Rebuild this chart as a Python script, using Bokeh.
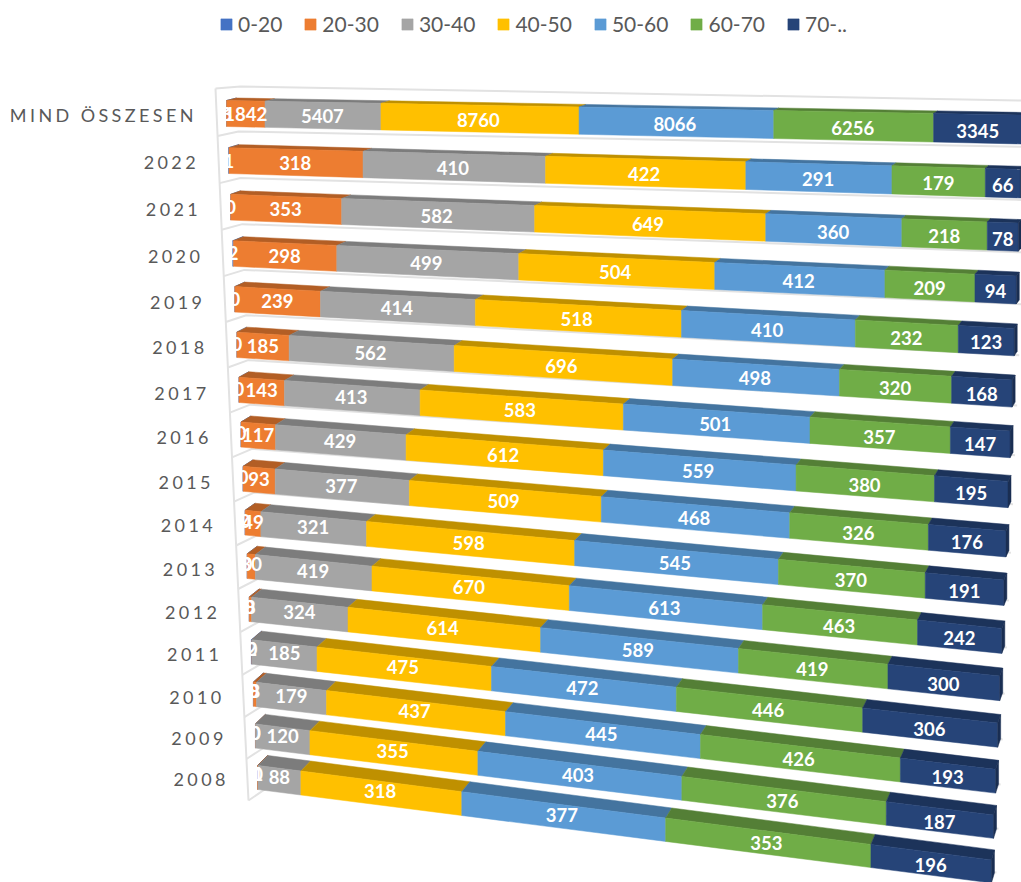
from bokeh.plotting import figure, curdoc
from bokeh.models import Range1d, CustomJS
from bokeh.core.properties import value
from bokeh.embed import file_html
from bokeh.resources import INLINE

categories = ["MIND ÖSSZESEN", "2022", "2021", "2020", "2019", "2018", "2017", "2016",
              "2015", "2014", "2013", "2012", "2011", "2010", "2009", "2008"]
series_names = ["0-20", "20-30", "30-40", "40-50", "50-60", "60-70", "70-.."]
v_0_20 = [3, 1, 0, 2, 0, 0, 0, 0, 0, 0, 0, 0, 2, 0, 0, 0]
v_20_30 = [1842, 318, 353, 298, 239, 185, 143, 117, 93, 49, 30, 8, 0, 8, 0, 1]
v_30_40 = [5407, 410, 582, 499, 414, 562, 413, 429, 377, 321, 419, 324, 185, 179, 120, 88]
v_40_50 = [8760, 422, 649, 504, 518, 696, 583, 612, 509, 598, 670, 614, 475, 437, 355, 318]
v_50_60 = [8066, 291, 360, 412, 410, 498, 501, 559, 468, 545, 613, 589, 472, 445, 403, 377]
v_60_70 = [6256, 179, 218, 209, 232, 320, 357, 380, 326, 370, 463, 419, 446, 426, 376, 353]
v_70 = [3345, 66, 78, 94, 123, 168, 147, 195, 176, 191, 242, 300, 306, 193, 187, 196]
series = [v_0_20, v_20_30, v_30_40, v_40_50, v_50_60, v_60_70, v_70]
front_colors = ["#4472C4", "#ED7D31", "#A5A5A5", "#FFC000", "#5B9BD5", "#70AD47", "#264478"]
top_colors = ["#335692", "#B25E25", "#7C7C7C", "#BF9000", "#44749F", "#547F36", "#1C335A"]
side_color = "#1A2E52"
GRID = "#E2E2E2"
LABEL_SPACING = 3.4

# perspective projection of the 100 % stacked bars
A = 1.14
def persp(t):
    return t / (t + A * (1 - t)) if 0 < t < 1 else float(t)
def x_left(i): return 226 + 2.07 * i
def x_right(i): return 1022 - 2.07 * i
def lb(i): return 126 + 47.2 * i - 0.2 * i * i
def rb(i): return 143.5 + 54.3 * i - 0.336 * i * i
def lt(i): return lb(i) - (26 - 0.13 * i)
def rt(i): return rb(i) - (29 - 0.4 * i)
def px(i, s): return x_left(i) + s * (x_right(i) - x_left(i))
def ytop(i, s): return lt(i) + s * (rt(i) - lt(i))
def ybot(i, s): return lb(i) + s * (rb(i) - lb(i))
def ddx(s): return 10 - 7 * s
def ddy(i): return -(2.5 + 0.5 * i)

p = figure(width=1021, height=882, x_range=Range1d(0, 1021), y_range=Range1d(882, 0),
           toolbar_location=None, output_backend="svg", min_border=0,
           x_axis_type=None, y_axis_type=None)
p.grid.visible = False
p.outline_line_color = None
p.styles = {"position": "absolute", "left": "0", "top": "0"}

# walls of the 3D plot
n = len(categories)
def ax_x(j): return 215 + 33 * j / n
def ax_y(j): return 88 + 47.7 * j - 0.2 * j * j
grid_xs = [[ax_x(j) for j in range(n + 1)], [ax_x(0), 240, 1021]]
grid_ys = [[ax_y(j) for j in range(n + 1)], [ax_y(0), 86, 100]]
for i in range(n):
    grid_xs.append([ax_x(i + 1), x_left(i) + 12 - 0.13 * i, x_right(i) + 5])
    grid_ys.append([ax_y(i + 1), lb(i) + 5 - 0.47 * i, rb(i) + 3 - 0.9 * i])
p.multi_line(grid_xs, grid_ys, line_color=GRID, line_width=2)

totals = [sum(s[i] for s in series) for i in range(n)]
label_x, label_y, label_text = [], [], []
for k, (vals, name) in enumerate(zip(series, series_names)):
    fx, fy, tx, ty = [], [], [], []
    for i in range(n):
        before = sum(series[m][i] for m in range(k))
        t0, t1 = before / totals[i], (before + vals[i]) / totals[i]
        s0, s1 = persp(t0), persp(t1)
        fx.append([px(i, s0), px(i, s1), px(i, s1), px(i, s0)])
        fy.append([ytop(i, s0), ytop(i, s1), ybot(i, s1), ybot(i, s0)])
        tx.append([px(i, s0), px(i, s1), px(i, s1) + ddx(s1), px(i, s0) + ddx(s0)])
        ty.append([ytop(i, s0), ytop(i, s1), ytop(i, s1) + ddy(i), ytop(i, s0) + ddy(i)])
        sm = persp((t0 + t1) / 2)
        label_x.append(px(i, sm))
        label_y.append((ytop(i, sm) + ybot(i, sm)) / 2 + 0.5 + sm * 1.5 - 0.27 * i * (1 - sm))
        label_text.append(str(vals[i]))
    p.patches(tx, ty, fill_color=top_colors[k], line_color=top_colors[k], line_width=0.5)
    p.patches(fx, fy, fill_color=front_colors[k], line_color=front_colors[k], line_width=0.5,
              legend_label=name)

# end caps of the last segment
sx, sy = [], []
for i in range(n):
    sx.append([x_right(i), x_right(i) + ddx(1), x_right(i) + ddx(1), x_right(i)])
    sy.append([rt(i), rt(i) + ddy(i), rb(i) + ddy(i), rb(i)])
p.patches(sx, sy, fill_color=side_color, line_color=side_color, line_width=0.5)

p.text(label_x, label_y, text=label_text, text_color="white", text_font=value("Lato"),
       text_font_style="bold", text_font_size="18.5px", text_align="center", text_baseline="middle")

# category labels (the browser adds the letter spacing to the right of the anchor)
cat_x = [193 + 2.13 * i - LABEL_SPACING * (len(c) - 1) for i, c in enumerate(categories)]
cat_y = [114.7 + 47.63 * i - 0.221 * i * i for i in range(n)]
p.text(cat_x, cat_y, text=categories, text_color="#595959", text_font=value("Lato"),
       text_font_size="18px", text_align="right", text_baseline="middle")

leg = p.legend[0]
leg.orientation = "horizontal"
leg.location = (219, 846)
leg.padding = 0
leg.margin = 0
leg.spacing = 21
leg.glyph_width = 14
leg.glyph_height = 14
leg.label_standoff = 5
leg.border_line_color = None
leg.background_fill_alpha = 0
leg.label_text_font = "Lato"
leg.label_text_font_size = "21px"
leg.label_text_color = "#595959"

cb = CustomJS(args=dict(cats=categories, sp=LABEL_SPACING), code="""
function walk(root){
  root.querySelectorAll('*').forEach(el=>{
    if(el.shadowRoot) walk(el.shadowRoot);
    if(el.tagName.toLowerCase()==='text' && cats.includes(el.textContent)) el.style.letterSpacing=sp+'px';
  });
}
let c=0; const h=setInterval(()=>{walk(document); if(++c>20) clearInterval(h);},50);
""")
doc = curdoc()
doc.add_root(p)
doc.js_on_event("document_ready", cb)

open("out.html", "w").write(file_html(p, INLINE))
